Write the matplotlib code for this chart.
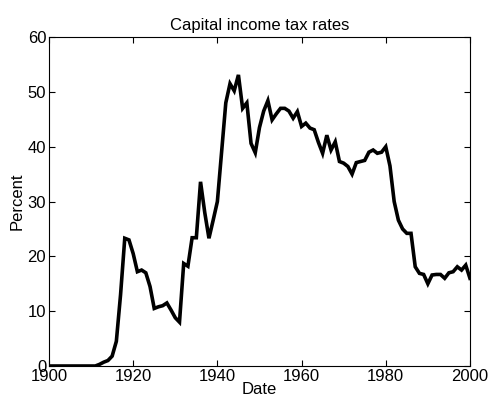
import numpy as np
import matplotlib
matplotlib.use('Agg')
import matplotlib.pyplot as plt

plt.rcParams['font.family'] = ['Liberation Sans', 'DejaVu Sans']

# Tax rate on capital income, percent, per year 1900-2000
anos = list(range(1900, 2001))
taxas = [
    0, 0, 0, 0, 0, 0, 0, 0, 0, 0,            # 1900-1909
    0, 0, 0.3, 0.7, 1.0, 1.8, 4.5, 13, 23.3, 23,   # 1910-1919
    20.5, 17.2, 17.5, 17, 14.5, 10.5, 10.8, 11, 11.5, 10.2,  # 1920-1929
    8.8, 8.0, 18.7, 18.2, 23.4, 23.4, 33.6, 28, 23.3, 26.6,  # 1930-1939
    30, 39, 48, 51.5, 50.2, 53.1, 47, 48, 40.6, 38.9,        # 1940-1949
    43.5, 46.5, 48.4, 44.9, 46, 47, 47, 46.5, 45.2, 46.4,    # 1950-1959
    43.7, 44.3, 43.4, 43.1, 40.8, 38.8, 42.1, 39.4, 40.9, 37.3,  # 1960-1969
    37, 36.4, 35, 37.1, 37.3, 37.5, 39, 39.4, 38.8, 39,      # 1970-1979
    40, 36.5, 30, 26.6, 25, 24.2, 24.2, 18.1, 16.9, 16.7,    # 1980-1989
    15, 16.6, 16.7, 16.7, 16, 17, 17.2, 18.1, 17.5, 18.4,    # 1990-1999
    16,                                                      # 2000
]

fig = plt.figure(figsize=(4.88, 4.03), dpi=100)
ax = fig.add_axes([0.1004, 0.0918, 0.8626, 0.8162])

ax.plot(anos, taxas, color='black', linewidth=2.6, solid_joinstyle='miter')

ax.set_xlim(1900, 2000)
ax.set_ylim(0, 60)
ax.set_xticks(range(1900, 2001, 20))
ax.set_yticks(range(0, 61, 10))
ax.tick_params(direction='in', top=True, right=True, labelsize=12, length=4, pad=2)
for lado in ax.spines.values():
    lado.set_linewidth(0.8)

ax.set_title('Capital income tax rates', fontsize=12, pad=5)
ax.set_xlabel('Date', fontsize=12, labelpad=-1)
ax.set_ylabel('Percent', fontsize=12, labelpad=2)

fig.savefig('out.png', dpi=100)
